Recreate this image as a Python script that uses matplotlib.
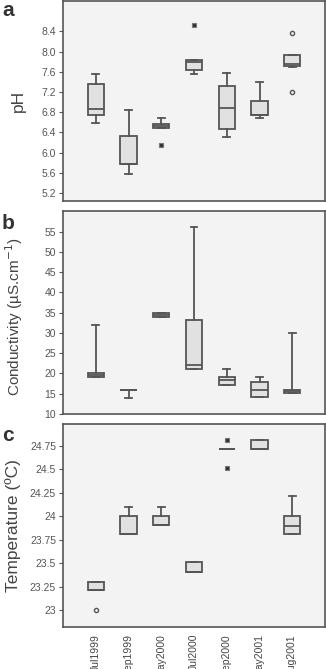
import matplotlib
matplotlib.use("Agg")
import matplotlib.pyplot as plt
from matplotlib.ticker import FixedLocator, FuncFormatter

plt.rcParams['font.family'] = ['Liberation Sans', 'DejaVu Sans']

categories = ["Jul1999", "Sep1999", "May2000", "Jul2000", "Sep2000", "May2001", "Aug2001"]

# pH: whisker low, q1, median, q3, whisker high
ph_wlo = [6.58, 5.58, 6.48, 7.55, 6.30, 6.68, 7.69]
ph_q1  = [6.75, 5.78, 6.49, 7.63, 6.47, 6.75, 7.71]
ph_med = [6.87, 5.78, 6.52, 7.79, 6.89, 6.75, 7.76]
ph_q3  = [7.36, 6.33, 6.56, 7.84, 7.32, 7.02, 7.94]
ph_whi = [7.56, 6.85, 6.68, 7.84, 7.57, 7.39, 7.94]
ph_out_circle_cat = [7, 7]
ph_out_circle_val = [8.37, 7.20]
ph_out_star_cat = [3, 4]
ph_out_star_val = [6.14, 8.53]

# Conductivity
co_wlo = [19.1, 13.9, 34.0, 21.0, 17.1, 14.2, 15.2]
co_q1  = [19.1, 16.0, 34.0, 21.2, 17.1, 14.3, 15.2]
co_med = [19.6, 16.0, 34.4, 22.0, 18.4, 16.0, 15.6]
co_q3  = [20.0, 16.0, 34.9, 33.1, 19.1, 17.9, 16.0]
co_whi = [32.0, 16.0, 34.9, 56.1, 21.0, 19.1, 30.1]

# Temperature
te_wlo = [23.21, 23.81, 23.91, 23.41, 24.71, 24.71, 23.81]
te_q1  = [23.21, 23.81, 23.91, 23.41, 24.71, 24.71, 23.81]
te_med = [23.21, 23.81, 23.91, 23.41, 24.71, 24.71, 23.90]
te_q3  = [23.30, 24.00, 24.00, 23.51, 24.71, 24.81, 24.00]
te_whi = [23.30, 24.10, 24.10, 23.51, 24.71, 24.81, 24.21]
te_out_circle_cat = [1]
te_out_circle_val = [23.00]
te_out_star_cat = [5, 5]
te_out_star_val = [24.81, 24.51]

ph_ticks = [5.2, 5.6, 6.0, 6.4, 6.8, 7.2, 7.6, 8.0, 8.4]
co_ticks = [10, 15, 20, 25, 30, 35, 40, 45, 50, 55]
te_ticks = [23, 23.25, 23.5, 23.75, 24, 24.25, 24.5, 24.75]

W, H = 326, 669
fig = plt.figure(figsize=(W / 100, H / 100), dpi=100)
fig.patch.set_facecolor('white')

line_c = '#555555'
face_c = '#e1e1e1'
bg_c = '#f3f3f3'
tick_c = '#555555'

L = 63 / W
Wd = (325 - 63) / W

def make_stats(wlo, q1, med, q3, whi):
    return [dict(whislo=a, q1=b, med=c, q3=d, whishi=e, fliers=[])
            for a, b, c, d, e in zip(wlo, q1, med, q3, whi)]

def panel(rect, stats, ylim, ticks, fmt, ylabel, label_size, label_right_px,
          letter, letter_y, circ=None, star=None, xlabels=False, label_y=0.5):
    ax = fig.add_axes(rect)
    ax.set_facecolor(bg_c)
    pos = list(range(1, len(categories) + 1))
    ax.bxp(stats, positions=pos, widths=0.5, patch_artist=True, showfliers=False,
           capwidths=0.2,
           boxprops=dict(facecolor=face_c, edgecolor=line_c, linewidth=1.3),
           medianprops=dict(color=line_c, linewidth=1.3),
           whiskerprops=dict(color=line_c, linewidth=1.3),
           capprops=dict(color=line_c, linewidth=1.3))
    if circ is not None:
        ax.plot(circ[0], circ[1], linestyle='none', marker='o', markersize=3,
                markerfacecolor='none', markeredgecolor=line_c, markeredgewidth=1.0)
    if star is not None:
        ax.plot(star[0], star[1], linestyle='none', marker='s', markersize=3.2,
                markerfacecolor='#333333', markeredgecolor='#777777', markeredgewidth=0.8)
    ax.set_xlim(0.0, 8.0)
    ax.set_ylim(*ylim)
    ax.yaxis.set_major_locator(FixedLocator(ticks))
    ax.yaxis.set_major_formatter(FuncFormatter(fmt))
    ax.tick_params(axis='y', length=3, width=0.8, color=tick_c, labelcolor=tick_c,
                   labelsize=7.5, pad=2)
    ax.set_xticks(pos)
    if xlabels:
        ax.set_xticklabels(categories, rotation=90, fontsize=7.5, color='#444444',
                           va='top')
        ax.tick_params(axis='x', length=0, pad=5)
    else:
        ax.set_xticklabels([])
        ax.tick_params(axis='x', length=0)
    for s in ax.spines.values():
        s.set_color(line_c)
        s.set_linewidth(1.2)
    ax.set_ylabel(ylabel, fontsize=label_size, color='#444444')
    ax.yaxis.set_label_coords((label_right_px - 63) / (325 - 63), label_y)
    fig.text(2 / W, 1 - letter_y / H, letter, fontsize=15, fontweight='bold',
             color='#333333', ha='left', va='top')
    return ax

panel([L, 1 - 201 / H, Wd, 200 / H], make_stats(ph_wlo, ph_q1, ph_med, ph_q3, ph_whi),
      (5.04, 9.0), ph_ticks, lambda v, p: f"{v:.1f}", "pH", 12.5, 26, "a", 1,
      circ=(ph_out_circle_cat, ph_out_circle_val), star=(ph_out_star_cat, ph_out_star_val))

panel([L, 1 - 414 / H, Wd, 203 / H], make_stats(co_wlo, co_q1, co_med, co_q3, co_whi),
      (10, 60.1), co_ticks, lambda v, p: f"{v:g}", "Conductivity (µS.cm$^{-1}$)", 11.0, 25,
      "b", 214, label_y=0.48)

panel([L, 1 - 627 / H, Wd, 203 / H], make_stats(te_wlo, te_q1, te_med, te_q3, te_whi),
      (22.82, 24.98), te_ticks, lambda v, p: f"{v:g}", "Temperature (ºC)", 12.5, 21,
      "c", 426,
      circ=(te_out_circle_cat, te_out_circle_val), star=(te_out_star_cat, te_out_star_val),
      xlabels=True)

fig.savefig("out.png", dpi=100)
